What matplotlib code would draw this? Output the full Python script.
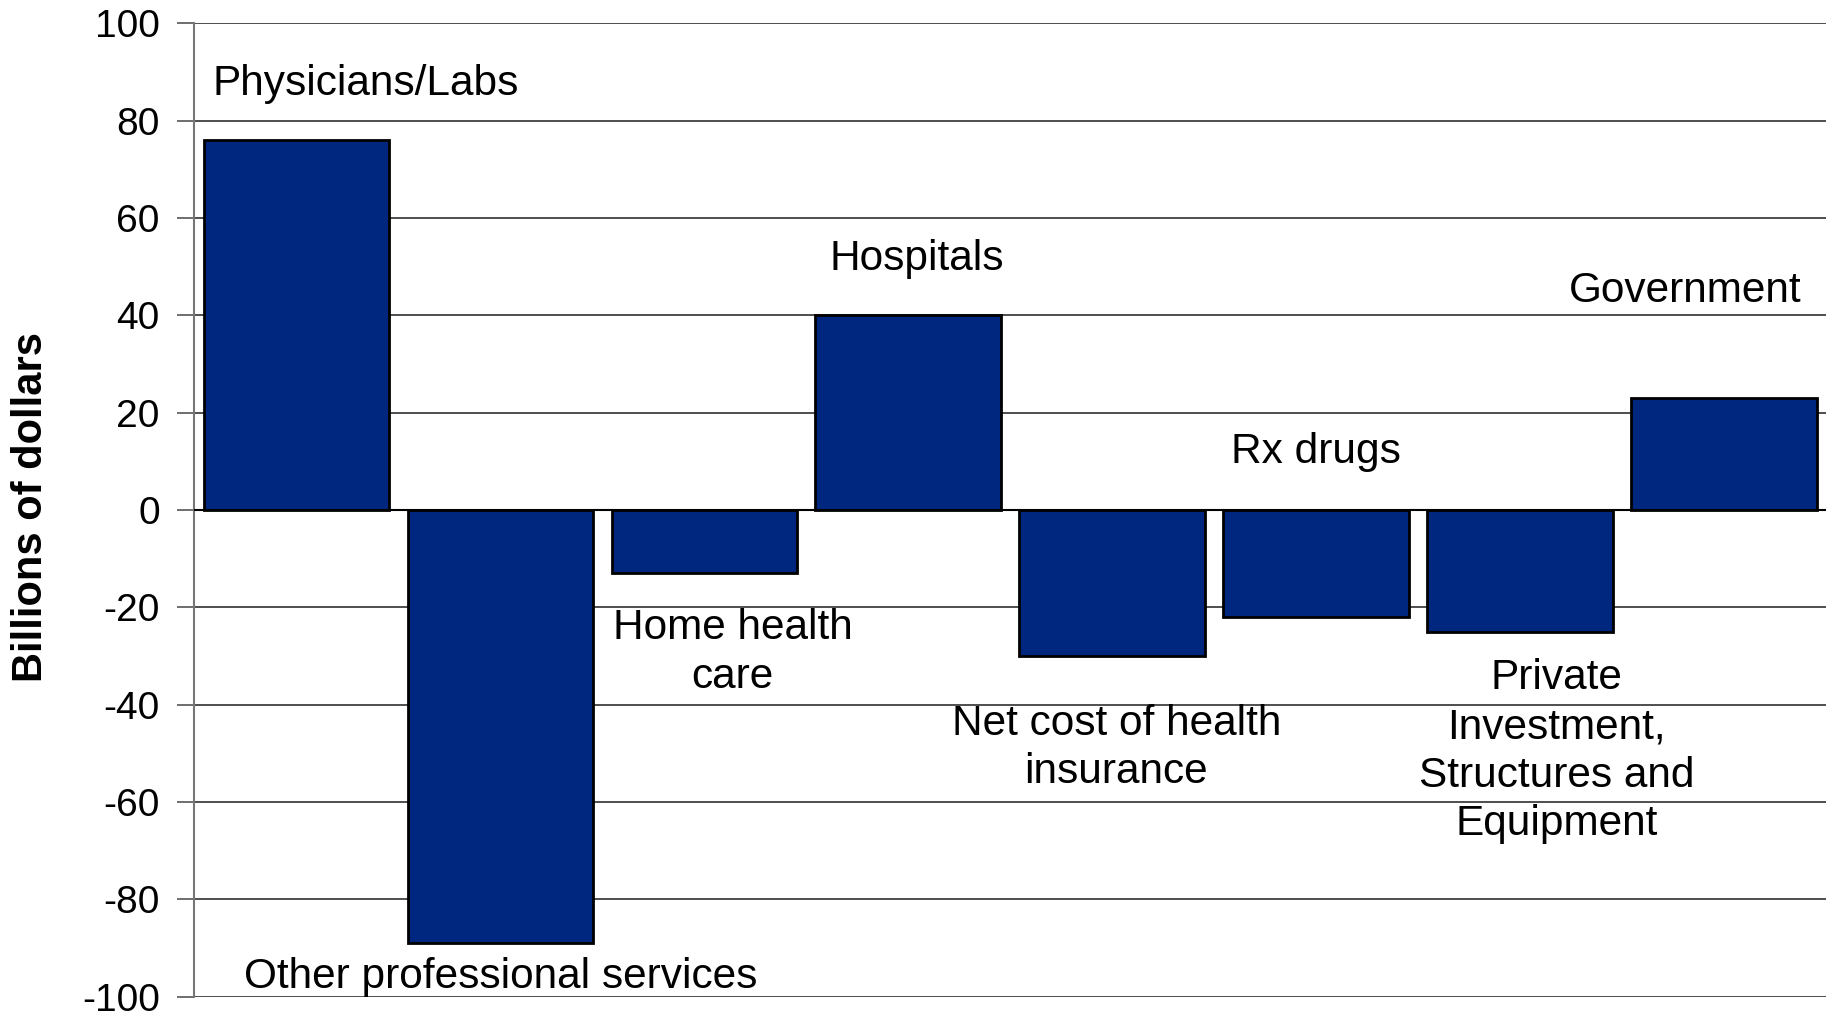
import numpy as np
import matplotlib.pyplot as plt

plt.rcParams['font.family'] = ['Liberation Sans', 'DejaVu Sans']

# Change in spending by category, billions of dollars
categories = ["Physicians/Labs", "Other professional services", "Home health\ncare",
              "Hospitals", "Net cost of health\ninsurance", "Rx drugs",
              "Private\nInvestment,\nStructures and\nEquipment", "Government"]
values = [76, -89, -13, 40, -30, -22, -25, 23]

# where each category name sits (data coords)
label_x = [0.34, 1.0, 2.14, 3.04, 4.02, 5.0, 6.18, 6.81]
label_y = [87.5, -96, -29.3, 51.6, -48.9, 11.9, -49.6, 44.9]

yticks = np.arange(-100, 101, 20)

fig = plt.figure(figsize=(18.26, 10.13), dpi=100)
ax = fig.add_axes([0.1065, 0.016, 0.8935, 0.961])

x = np.arange(len(values))
ax.bar(x, values, width=0.91, color='#00277f', edgecolor='black', linewidth=2, zorder=3)

ax.set_xlim(-0.5, len(values) - 0.5)
ax.set_ylim(-100, 100)
ax.set_yticks(yticks)
ax.set_yticklabels([str(v) for v in yticks], fontsize=28)
ax.tick_params(axis='y', length=12, width=1.2, color='#555555', pad=13)
ax.set_xticks([])

ax.grid(axis='y', color='#404040', linewidth=1.3, zorder=0)
ax.axhline(0, color='black', linewidth=1.5, zorder=4)

for side in ['top', 'right', 'bottom']:
    ax.spines[side].set_visible(False)
ax.spines['left'].set_color('#777777')
ax.spines['left'].set_linewidth(1.5)

for name, lx, ly in zip(categories, label_x, label_y):
    ax.text(lx, ly, name, fontsize=30.5, ha='center', va='center',
            linespacing=1.28, zorder=5)

fig.text(0.017, 0.5, "Billions of dollars", rotation=90, fontsize=30,
         fontweight='bold', ha='center', va='center')

fig.savefig('out.png', dpi=100)
